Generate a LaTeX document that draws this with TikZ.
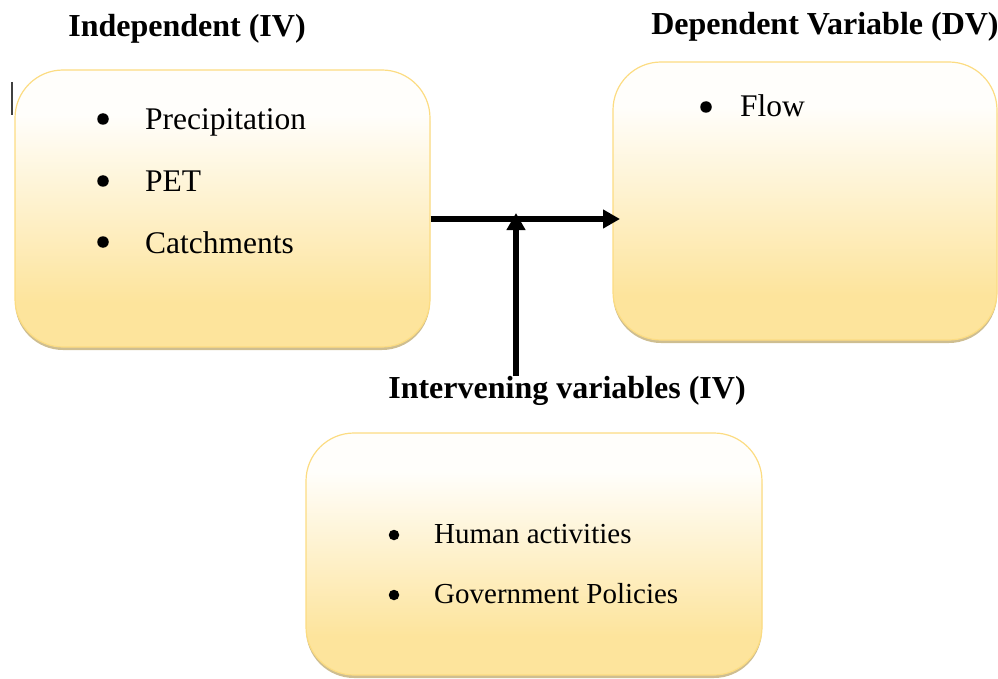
\documentclass[tikz,border=0pt]{standalone}
\usepackage{fontspec}
\setmainfont{Liberation Serif}
\usetikzlibrary{shadows,arrows.meta}
\definecolor{boxtop}{HTML}{FFFEFB}
\definecolor{boxbot}{HTML}{FDE49C}
\definecolor{boxedge}{HTML}{FCDC82}
\definecolor{shadowc}{HTML}{B9A263}
\pgfdeclareverticalshading{boxshade}{100bp}{color(0bp)=(boxbot); color(33bp)=(boxbot); color(67bp)=(boxtop); color(100bp)=(boxtop)}
\tikzset{
  varbox/.style={rectangle, rounded corners=48pt, draw=boxedge, line width=1.2pt,
    shading=boxshade, inner sep=0pt,
    drop shadow={shadow xshift=0pt, shadow yshift=-3pt, fill=shadowc, opacity=0.7}},
  title/.style={font=\fontsize{32}{38}\selectfont\bfseries, inner sep=0pt},
  item/.style={font=\fontsize{31.5}{36}\selectfont, anchor=base west, inner sep=0pt},
  smallitem/.style={font=\fontsize{29}{34}\selectfont, anchor=base west, inner sep=0pt},
  bul/.style={circle, fill=black, minimum size=11.5pt, inner sep=0pt},
  arr/.style={line width=5.5pt, -{Triangle[length=17pt,width=18pt]}}
}
\begin{document}
\begin{tikzpicture}[x=1pt,y=-1pt]
\useasboundingbox (0,0) rectangle (998,679);
% boxes
\node[varbox, minimum width=415pt, minimum height=277pt] (iv) at (222.5,208.5) {};
\node[varbox, minimum width=384pt, minimum height=278pt] (dv) at (805,201) {};
\node[varbox, minimum width=456pt, minimum height=242pt] (inv) at (534,554) {};
% titles
\node[title] (tiv) at (187,29) {Independent (IV)};
\node[title] (tdv) at (825,27) {Dependent Variable (DV)};
\node[title] (tinv) at (567,391) {Intervening variables (IV)};
% cursor
\coordinate (c1) at (12,82);
\coordinate (c2) at (12,115);
\draw[line width=1.5pt, black!75] (c1) -- (c2);
% IV items
\node[bul] (b1) at (103,119) {};
\node[item] (t1) at (145,130) {Precipitation};
\node[bul] (b2) at (103,181) {};
\node[item] (t2) at (145,192) {PET};
\node[bul] (b3) at (103,242) {};
\node[item] (t3) at (145,253) {Catchments};
% DV items
\node[bul] (b4) at (706,107) {};
\node[item] (t4) at (740,117) {Flow};
% intervening items
\node[bul, minimum size=10.5pt] (b5) at (394,535) {};
\node[smallitem] (t5) at (434,543) {Human activities};
\node[bul, minimum size=10.5pt] (b6) at (394,595) {};
\node[smallitem] (t6) at (434,603) {Government Policies};
% arrows
\coordinate (hs) at (iv.east |- 0,219);
\coordinate (he) at (620,219);
\coordinate (vs) at (516,376);
\coordinate (ve) at (516,213);
\draw[arr] (hs) -- (he);
\draw[arr] (vs) -- (ve);
\end{tikzpicture}
\end{document}
